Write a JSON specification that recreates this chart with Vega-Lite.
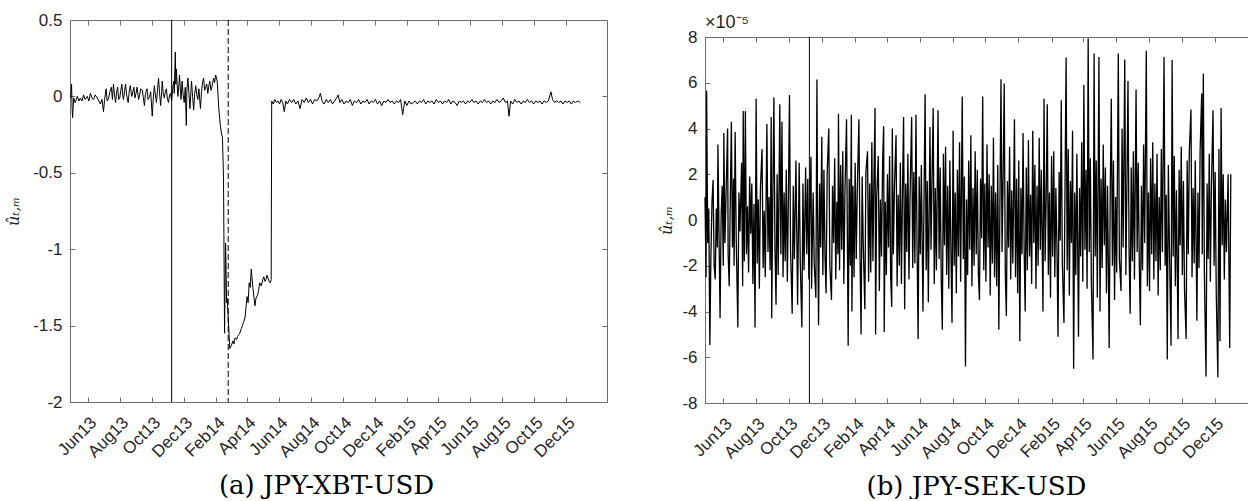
{
"$schema": "https://vega.github.io/schema/vega-lite/v6.json",
"padding": {"left": 5, "top": 11, "right": 0, "bottom": 0},
"background": "white",
"config": {
  "view": {"stroke": null},
  "font": "Liberation Sans",
  "axis": {"grid": false, "domainColor": "#6e6e6e", "tickColor": "#6e6e6e", "domainWidth": 1, "tickWidth": 1, "tickSize": -5, "labelColor": "#262626", "labelFont": "Liberation Sans", "labelFontSize": 17, "labelFlush": false, "labelOverlap": false}
},
"datasets": {
"events_a": [{"date": "2013-11-08", "style": "solid"}, {"date": "2014-02-24", "style": "dashed"}],
"events_b": [{"date": "2013-11-08", "style": "solid"}],
"xbt": [
{"date":"2013-04-29","u":-0.01},{"date":"2013-05-01","u":0.08},{"date":"2013-05-02","u":-0.08},{"date":"2013-05-03","u":-0.14},{"date":"2013-05-05","u":-0.01},{"date":"2013-05-08","u":-0.04},{"date":"2013-05-10","u":-0.02},{"date":"2013-05-12","u":0.0},{"date":"2013-05-15","u":-0.03},{"date":"2013-05-18","u":-0.01},{"date":"2013-05-21","u":-0.03},{"date":"2013-05-24","u":0.01},{"date":"2013-05-27","u":-0.02},{"date":"2013-05-31","u":0.0},
{"date":"2013-06-03","u":-0.03},{"date":"2013-06-06","u":0.02},{"date":"2013-06-09","u":-0.01},{"date":"2013-06-12","u":-0.02},{"date":"2013-06-15","u":0.01},{"date":"2013-06-19","u":-0.01},{"date":"2013-06-22","u":-0.03},{"date":"2013-06-25","u":-0.05},{"date":"2013-06-28","u":-0.02},
{"date":"2013-07-01","u":-0.10},{"date":"2013-07-03","u":-0.02},{"date":"2013-07-06","u":0.05},{"date":"2013-07-08","u":-0.03},{"date":"2013-07-11","u":-0.01},{"date":"2013-07-13","u":0.03},{"date":"2013-07-16","u":0.06},{"date":"2013-07-18","u":-0.02},{"date":"2013-07-20","u":0.08},{"date":"2013-07-22","u":0.01},{"date":"2013-07-24","u":-0.04},{"date":"2013-07-26","u":0.03},{"date":"2013-07-28","u":0.06},{"date":"2013-07-30","u":-0.02},
{"date":"2013-08-01","u":-0.01},{"date":"2013-08-03","u":0.04},{"date":"2013-08-05","u":0.08},{"date":"2013-08-07","u":0.0},{"date":"2013-08-08","u":-0.02},{"date":"2013-08-10","u":0.03},{"date":"2013-08-12","u":0.08},{"date":"2013-08-14","u":0.01},{"date":"2013-08-17","u":-0.04},{"date":"2013-08-19","u":0.03},{"date":"2013-08-21","u":0.07},{"date":"2013-08-24","u":0.0},{"date":"2013-08-26","u":0.03},{"date":"2013-08-28","u":0.06},{"date":"2013-08-30","u":-0.01},
{"date":"2013-09-01","u":0.02},{"date":"2013-09-03","u":0.06},{"date":"2013-09-06","u":-0.02},{"date":"2013-09-08","u":0.01},{"date":"2013-09-10","u":0.05},{"date":"2013-09-13","u":0.04},{"date":"2013-09-15","u":-0.01},{"date":"2013-09-17","u":-0.06},{"date":"2013-09-19","u":0.02},{"date":"2013-09-22","u":0.05},{"date":"2013-09-24","u":-0.02},{"date":"2013-09-27","u":0.0},{"date":"2013-09-29","u":0.03},
{"date":"2013-10-02","u":-0.13},{"date":"2013-10-04","u":-0.01},{"date":"2013-10-06","u":0.07},{"date":"2013-10-08","u":0.01},{"date":"2013-10-10","u":-0.04},{"date":"2013-10-12","u":0.04},{"date":"2013-10-14","u":0.12},{"date":"2013-10-16","u":0.02},{"date":"2013-10-18","u":-0.06},{"date":"2013-10-20","u":0.03},{"date":"2013-10-21","u":0.10},{"date":"2013-10-23","u":0.02},{"date":"2013-10-25","u":-0.01},{"date":"2013-10-27","u":0.03},{"date":"2013-10-29","u":0.05},{"date":"2013-10-31","u":-0.02},
{"date":"2013-11-02","u":-0.04},{"date":"2013-11-04","u":0.01},{"date":"2013-11-06","u":0.02},{"date":"2013-11-08","u":-0.03},{"date":"2013-11-10","u":0.05},{"date":"2013-11-12","u":0.10},{"date":"2013-11-13","u":0.02},{"date":"2013-11-15","u":0.29},{"date":"2013-11-16","u":0.08},{"date":"2013-11-17","u":0.18},{"date":"2013-11-19","u":0.05},{"date":"2013-11-20","u":0.0},{"date":"2013-11-22","u":0.08},{"date":"2013-11-23","u":0.14},{"date":"2013-11-25","u":0.03},{"date":"2013-11-26","u":-0.02},{"date":"2013-11-28","u":0.10},{"date":"2013-11-30","u":0.01},
{"date":"2013-12-02","u":-0.04},{"date":"2013-12-04","u":0.06},{"date":"2013-12-06","u":-0.19},{"date":"2013-12-07","u":0.03},{"date":"2013-12-09","u":0.12},{"date":"2013-12-11","u":0.02},{"date":"2013-12-13","u":-0.08},{"date":"2013-12-15","u":0.05},{"date":"2013-12-16","u":0.10},{"date":"2013-12-18","u":0.0},{"date":"2013-12-20","u":-0.09},{"date":"2013-12-22","u":0.02},{"date":"2013-12-24","u":0.07},{"date":"2013-12-26","u":0.01},{"date":"2013-12-28","u":-0.02},{"date":"2013-12-30","u":0.05},
{"date":"2014-01-02","u":-0.08},{"date":"2014-01-04","u":0.03},{"date":"2014-01-06","u":0.09},{"date":"2014-01-08","u":0.12},{"date":"2014-01-10","u":0.04},{"date":"2014-01-12","u":0.06},{"date":"2014-01-14","u":0.08},{"date":"2014-01-16","u":0.02},{"date":"2014-01-18","u":0.07},{"date":"2014-01-20","u":0.10},{"date":"2014-01-22","u":0.04},{"date":"2014-01-23","u":0.05},{"date":"2014-01-25","u":0.08},{"date":"2014-01-27","u":0.12},{"date":"2014-01-29","u":0.09},{"date":"2014-01-31","u":0.14},
{"date":"2014-02-03","u":0.10},{"date":"2014-02-06","u":-0.08},{"date":"2014-02-09","u":-0.19},{"date":"2014-02-11","u":-0.24},{"date":"2014-02-13","u":-0.27},{"date":"2014-02-15","u":-0.53},{"date":"2014-02-17","u":-1.55},{"date":"2014-02-19","u":-0.96},{"date":"2014-02-21","u":-1.35},{"date":"2014-02-22","u":-1.32},{"date":"2014-02-24","u":-1.45},{"date":"2014-02-27","u":-1.65},
{"date":"2014-03-02","u":-1.63},{"date":"2014-03-05","u":-1.60},{"date":"2014-03-07","u":-1.62},{"date":"2014-03-09","u":-1.58},{"date":"2014-03-12","u":-1.59},{"date":"2014-03-14","u":-1.57},{"date":"2014-03-16","u":-1.56},{"date":"2014-03-18","u":-1.55},{"date":"2014-03-21","u":-1.52},{"date":"2014-03-23","u":-1.50},{"date":"2014-03-25","u":-1.48},{"date":"2014-03-28","u":-1.45},
{"date":"2014-04-01","u":-1.31},{"date":"2014-04-03","u":-1.35},{"date":"2014-04-05","u":-1.22},{"date":"2014-04-07","u":-1.25},{"date":"2014-04-09","u":-1.13},{"date":"2014-04-12","u":-1.25},{"date":"2014-04-16","u":-1.37},{"date":"2014-04-18","u":-1.32},{"date":"2014-04-21","u":-1.30},{"date":"2014-04-23","u":-1.27},{"date":"2014-04-25","u":-1.22},{"date":"2014-04-28","u":-1.24},
{"date":"2014-05-01","u":-1.20},{"date":"2014-05-03","u":-1.18},{"date":"2014-05-05","u":-1.21},{"date":"2014-05-07","u":-1.20},{"date":"2014-05-09","u":-1.17},{"date":"2014-05-11","u":-1.19},{"date":"2014-05-13","u":-1.21},{"date":"2014-05-15","u":-1.22},{"date":"2014-05-17","u":-1.20},{"date":"2014-05-18","u":-0.03},{"date":"2014-05-21","u":-0.05},{"date":"2014-05-24","u":-0.02},{"date":"2014-05-27","u":-0.04},{"date":"2014-05-30","u":-0.03},
{"date":"2014-06-02","u":-0.05},{"date":"2014-06-05","u":-0.02},{"date":"2014-06-08","u":-0.04},{"date":"2014-06-11","u":-0.10},{"date":"2014-06-14","u":-0.03},{"date":"2014-06-17","u":-0.05},{"date":"2014-06-21","u":-0.02},{"date":"2014-06-25","u":-0.04},{"date":"2014-06-29","u":-0.02},
{"date":"2014-07-03","u":-0.05},{"date":"2014-07-07","u":-0.03},{"date":"2014-07-11","u":-0.08},{"date":"2014-07-15","u":-0.02},{"date":"2014-07-19","u":-0.04},{"date":"2014-07-23","u":-0.01},{"date":"2014-07-27","u":-0.04},{"date":"2014-07-31","u":-0.02},
{"date":"2014-08-04","u":-0.05},{"date":"2014-08-08","u":-0.02},{"date":"2014-08-12","u":-0.03},{"date":"2014-08-16","u":-0.01},{"date":"2014-08-19","u":0.02},{"date":"2014-08-22","u":-0.03},{"date":"2014-08-26","u":-0.05},{"date":"2014-08-30","u":-0.02},
{"date":"2014-09-03","u":-0.04},{"date":"2014-09-07","u":-0.02},{"date":"2014-09-11","u":-0.05},{"date":"2014-09-15","u":-0.03},{"date":"2014-09-19","u":-0.01},{"date":"2014-09-22","u":0.01},{"date":"2014-09-25","u":-0.04},{"date":"2014-09-29","u":-0.02},
{"date":"2014-10-03","u":-0.05},{"date":"2014-10-07","u":-0.03},{"date":"2014-10-11","u":-0.04},{"date":"2014-10-15","u":-0.02},{"date":"2014-10-19","u":-0.06},{"date":"2014-10-23","u":-0.03},{"date":"2014-10-27","u":-0.04},{"date":"2014-10-31","u":-0.02},
{"date":"2014-11-04","u":-0.05},{"date":"2014-11-08","u":-0.03},{"date":"2014-11-12","u":-0.04},{"date":"2014-11-16","u":-0.02},{"date":"2014-11-20","u":-0.05},{"date":"2014-11-24","u":-0.03},{"date":"2014-11-28","u":-0.04},
{"date":"2014-12-02","u":-0.02},{"date":"2014-12-06","u":-0.05},{"date":"2014-12-10","u":-0.03},{"date":"2014-12-14","u":-0.06},{"date":"2014-12-18","u":-0.03},{"date":"2014-12-22","u":-0.04},{"date":"2014-12-26","u":-0.02},{"date":"2014-12-30","u":-0.04},
{"date":"2015-01-03","u":-0.03},{"date":"2015-01-07","u":-0.05},{"date":"2015-01-11","u":-0.03},{"date":"2015-01-15","u":-0.04},{"date":"2015-01-19","u":-0.02},{"date":"2015-01-23","u":-0.12},{"date":"2015-01-27","u":-0.03},{"date":"2015-01-31","u":-0.06},
{"date":"2015-02-04","u":-0.03},{"date":"2015-02-08","u":-0.05},{"date":"2015-02-12","u":-0.04},{"date":"2015-02-16","u":-0.03},{"date":"2015-02-20","u":-0.05},{"date":"2015-02-24","u":-0.03},{"date":"2015-02-28","u":-0.04},
{"date":"2015-03-04","u":-0.02},{"date":"2015-03-08","u":-0.05},{"date":"2015-03-12","u":-0.03},{"date":"2015-03-16","u":-0.04},{"date":"2015-03-20","u":-0.03},{"date":"2015-03-24","u":-0.05},{"date":"2015-03-28","u":-0.02},
{"date":"2015-04-01","u":-0.04},{"date":"2015-04-05","u":-0.03},{"date":"2015-04-09","u":-0.05},{"date":"2015-04-13","u":-0.03},{"date":"2015-04-17","u":-0.04},{"date":"2015-04-21","u":-0.02},{"date":"2015-04-25","u":-0.05},{"date":"2015-04-29","u":-0.03},
{"date":"2015-05-03","u":-0.04},{"date":"2015-05-07","u":-0.06},{"date":"2015-05-11","u":-0.03},{"date":"2015-05-15","u":-0.04},{"date":"2015-05-19","u":-0.03},{"date":"2015-05-23","u":-0.05},{"date":"2015-05-27","u":-0.03},{"date":"2015-05-31","u":-0.04},
{"date":"2015-06-04","u":-0.02},{"date":"2015-06-08","u":-0.04},{"date":"2015-06-12","u":-0.03},{"date":"2015-06-16","u":-0.05},{"date":"2015-06-20","u":-0.03},{"date":"2015-06-24","u":-0.04},{"date":"2015-06-28","u":-0.02},
{"date":"2015-07-02","u":-0.04},{"date":"2015-07-06","u":-0.03},{"date":"2015-07-10","u":-0.05},{"date":"2015-07-14","u":-0.03},{"date":"2015-07-18","u":-0.04},{"date":"2015-07-22","u":-0.02},{"date":"2015-07-26","u":-0.04},{"date":"2015-07-30","u":-0.03},
{"date":"2015-08-03","u":-0.01},{"date":"2015-08-07","u":-0.04},{"date":"2015-08-11","u":-0.03},{"date":"2015-08-14","u":-0.13},{"date":"2015-08-17","u":-0.03},{"date":"2015-08-21","u":-0.05},{"date":"2015-08-25","u":-0.02},{"date":"2015-08-29","u":-0.04},
{"date":"2015-09-02","u":-0.03},{"date":"2015-09-06","u":-0.05},{"date":"2015-09-10","u":-0.03},{"date":"2015-09-14","u":-0.04},{"date":"2015-09-18","u":-0.02},{"date":"2015-09-22","u":-0.04},{"date":"2015-09-26","u":-0.03},{"date":"2015-09-30","u":-0.05},
{"date":"2015-10-04","u":-0.03},{"date":"2015-10-08","u":-0.04},{"date":"2015-10-12","u":-0.03},{"date":"2015-10-16","u":-0.05},{"date":"2015-10-20","u":-0.03},{"date":"2015-10-24","u":-0.04},{"date":"2015-10-28","u":-0.03},
{"date":"2015-11-02","u":0.03},{"date":"2015-11-05","u":-0.02},{"date":"2015-11-09","u":-0.04},{"date":"2015-11-13","u":-0.03},{"date":"2015-11-17","u":-0.04},{"date":"2015-11-21","u":-0.03},{"date":"2015-11-25","u":-0.05},{"date":"2015-11-29","u":-0.03},
{"date":"2015-12-03","u":-0.04},{"date":"2015-12-07","u":-0.03},{"date":"2015-12-11","u":-0.05},{"date":"2015-12-15","u":-0.03},{"date":"2015-12-19","u":-0.04},{"date":"2015-12-23","u":-0.03},{"date":"2015-12-28","u":-0.04}
],
"sek": [
{"date":"2013-04-28","u":1.0},{"date":"2013-04-30","u":-2.5},{"date":"2013-05-01","u":5.65},{"date":"2013-05-03","u":-1.0},{"date":"2013-05-05","u":0.5},{"date":"2013-05-07","u":-5.46},{"date":"2013-05-09","u":-1.5},{"date":"2013-05-11","u":0.8},{"date":"2013-05-13","u":1.75},{"date":"2013-05-15","u":-2.0},{"date":"2013-05-17","u":-2.6},{"date":"2013-05-19","u":0.5},{"date":"2013-05-21","u":-1.2},{"date":"2013-05-22","u":3.3},{"date":"2013-05-24","u":-0.5},{"date":"2013-05-26","u":-4.3},{"date":"2013-05-28","u":0.2},{"date":"2013-05-30","u":1.5},
{"date":"2013-06-01","u":-2.0},{"date":"2013-06-02","u":3.8},{"date":"2013-06-04","u":-1.0},{"date":"2013-06-06","u":1.0},{"date":"2013-06-09","u":4.0},{"date":"2013-06-10","u":-1.5},{"date":"2013-06-12","u":-2.9},{"date":"2013-06-14","u":0.9},{"date":"2013-06-16","u":4.3},{"date":"2013-06-18","u":-1.2},{"date":"2013-06-20","u":1.8},{"date":"2013-06-21","u":-2.0},{"date":"2013-06-23","u":3.85},{"date":"2013-06-25","u":-0.8},{"date":"2013-06-28","u":-4.7},{"date":"2013-06-30","u":1.2},
{"date":"2013-07-02","u":-0.5},{"date":"2013-07-05","u":2.5},{"date":"2013-07-07","u":-2.9},{"date":"2013-07-08","u":4.77},{"date":"2013-07-10","u":-1.8},{"date":"2013-07-12","u":4.77},{"date":"2013-07-14","u":-1.5},{"date":"2013-07-16","u":0.6},{"date":"2013-07-18","u":-2.3},{"date":"2013-07-20","u":1.9},{"date":"2013-07-22","u":-0.6},{"date":"2013-07-24","u":1.6},{"date":"2013-07-26","u":-2.8},{"date":"2013-07-28","u":0.7},{"date":"2013-07-30","u":-4.7},
{"date":"2013-08-01","u":5.3},{"date":"2013-08-03","u":-1.9},{"date":"2013-08-05","u":0.9},{"date":"2013-08-07","u":-3.0},{"date":"2013-08-09","u":1.4},{"date":"2013-08-12","u":3.1},{"date":"2013-08-14","u":-2.1},{"date":"2013-08-16","u":0.4},{"date":"2013-08-18","u":-2.5},{"date":"2013-08-21","u":4.2},{"date":"2013-08-23","u":-1.4},{"date":"2013-08-25","u":1.0},{"date":"2013-08-27","u":-2.2},{"date":"2013-08-29","u":4.5},{"date":"2013-08-30","u":-4.3},
{"date":"2013-09-01","u":1.1},{"date":"2013-09-03","u":5.36},{"date":"2013-09-05","u":-1.2},{"date":"2013-09-07","u":-3.7},{"date":"2013-09-09","u":2.0},{"date":"2013-09-11","u":-2.4},{"date":"2013-09-14","u":5.06},{"date":"2013-09-16","u":-1.5},{"date":"2013-09-18","u":4.3},{"date":"2013-09-20","u":-2.5},{"date":"2013-09-22","u":1.2},{"date":"2013-09-24","u":-1.8},{"date":"2013-09-26","u":2.2},{"date":"2013-09-28","u":-2.7},{"date":"2013-09-30","u":1.0},
{"date":"2013-10-02","u":5.46},{"date":"2013-10-04","u":-1.3},{"date":"2013-10-07","u":-4.1},{"date":"2013-10-09","u":1.5},{"date":"2013-10-11","u":-1.7},{"date":"2013-10-14","u":2.6},{"date":"2013-10-17","u":-3.7},{"date":"2013-10-20","u":2.5},{"date":"2013-10-22","u":-1.8},{"date":"2013-10-25","u":-4.7},{"date":"2013-10-27","u":1.6},{"date":"2013-10-29","u":-2.2},
{"date":"2013-11-01","u":2.3},{"date":"2013-11-03","u":-1.5},{"date":"2013-11-05","u":1.8},{"date":"2013-11-07","u":-2.6},{"date":"2013-11-09","u":0.7},{"date":"2013-11-11","u":2.76},{"date":"2013-11-12","u":-3.0},{"date":"2013-11-15","u":1.2},{"date":"2013-11-17","u":-1.9},{"date":"2013-11-20","u":-3.4},{"date":"2013-11-22","u":6.14},{"date":"2013-11-23","u":1.0},{"date":"2013-11-25","u":-4.6},{"date":"2013-11-27","u":1.6},{"date":"2013-11-29","u":-1.2},
{"date":"2013-12-01","u":3.64},{"date":"2013-12-03","u":-2.4},{"date":"2013-12-05","u":2.2},{"date":"2013-12-07","u":-1.6},{"date":"2013-12-09","u":-3.2},{"date":"2013-12-11","u":2.0},{"date":"2013-12-14","u":4.0},{"date":"2013-12-16","u":-2.0},{"date":"2013-12-19","u":-3.5},{"date":"2013-12-21","u":1.5},{"date":"2013-12-23","u":-1.0},{"date":"2013-12-25","u":2.7},{"date":"2013-12-27","u":-2.6},{"date":"2013-12-29","u":0.8},{"date":"2013-12-31","u":-1.5},
{"date":"2014-01-01","u":4.65},{"date":"2014-01-03","u":-2.2},{"date":"2014-01-05","u":2.4},{"date":"2014-01-07","u":-1.3},{"date":"2014-01-09","u":3.0},{"date":"2014-01-11","u":-2.8},{"date":"2014-01-13","u":1.2},{"date":"2014-01-16","u":4.4},{"date":"2014-01-19","u":-5.5},{"date":"2014-01-21","u":1.8},{"date":"2014-01-23","u":-2.0},{"date":"2014-01-25","u":4.6},{"date":"2014-01-26","u":-4.0},{"date":"2014-01-28","u":1.5},{"date":"2014-01-30","u":-2.5},
{"date":"2014-02-01","u":2.5},{"date":"2014-02-03","u":-1.7},{"date":"2014-02-05","u":1.3},{"date":"2014-02-08","u":4.4},{"date":"2014-02-10","u":-1.5},{"date":"2014-02-12","u":-5.0},{"date":"2014-02-14","u":1.9},{"date":"2014-02-16","u":-1.0},{"date":"2014-02-19","u":-3.9},{"date":"2014-02-21","u":2.1},{"date":"2014-02-24","u":3.0},{"date":"2014-02-26","u":-2.7},{"date":"2014-02-28","u":1.6},
{"date":"2014-03-02","u":-2.3},{"date":"2014-03-04","u":3.4},{"date":"2014-03-06","u":-1.8},{"date":"2014-03-08","u":2.0},{"date":"2014-03-10","u":4.9},{"date":"2014-03-11","u":-5.0},{"date":"2014-03-13","u":1.0},{"date":"2014-03-16","u":2.8},{"date":"2014-03-18","u":-3.1},{"date":"2014-03-20","u":0.9},{"date":"2014-03-22","u":-1.6},{"date":"2014-03-24","u":2.5},{"date":"2014-03-26","u":4.1},{"date":"2014-03-27","u":-4.9},{"date":"2014-03-29","u":0.8},{"date":"2014-03-31","u":-2.4},
{"date":"2014-04-02","u":2.0},{"date":"2014-04-04","u":-1.2},{"date":"2014-04-06","u":2.8},{"date":"2014-04-08","u":-2.5},{"date":"2014-04-10","u":-3.8},{"date":"2014-04-11","u":4.0},{"date":"2014-04-13","u":-1.5},{"date":"2014-04-15","u":1.4},{"date":"2014-04-18","u":3.7},{"date":"2014-04-20","u":-2.9},{"date":"2014-04-22","u":1.1},{"date":"2014-04-24","u":-2.0},{"date":"2014-04-26","u":2.5},{"date":"2014-04-28","u":-2.8},{"date":"2014-04-30","u":1.3},
{"date":"2014-05-02","u":4.5},{"date":"2014-05-04","u":-3.9},{"date":"2014-05-06","u":1.6},{"date":"2014-05-08","u":-1.4},{"date":"2014-05-10","u":2.9},{"date":"2014-05-12","u":-2.6},{"date":"2014-05-14","u":1.0},{"date":"2014-05-17","u":4.5},{"date":"2014-05-19","u":-2.1},{"date":"2014-05-21","u":2.1},{"date":"2014-05-23","u":-1.9},{"date":"2014-05-25","u":4.6},{"date":"2014-05-27","u":-1.1},{"date":"2014-05-29","u":-5.2},{"date":"2014-05-31","u":1.9},
{"date":"2014-06-02","u":-1.5},{"date":"2014-06-04","u":2.4},{"date":"2014-06-07","u":-4.0},{"date":"2014-06-09","u":1.0},{"date":"2014-06-11","u":5.5},{"date":"2014-06-13","u":-2.2},{"date":"2014-06-15","u":1.7},{"date":"2014-06-17","u":-3.6},{"date":"2014-06-20","u":4.07},{"date":"2014-06-22","u":-1.3},{"date":"2014-06-24","u":2.0},{"date":"2014-06-26","u":4.9},{"date":"2014-06-28","u":-2.8},{"date":"2014-06-30","u":1.4},
{"date":"2014-07-02","u":-2.2},{"date":"2014-07-05","u":4.8},{"date":"2014-07-07","u":-1.7},{"date":"2014-07-09","u":2.3},{"date":"2014-07-11","u":-2.6},{"date":"2014-07-13","u":-4.8},{"date":"2014-07-15","u":2.9},{"date":"2014-07-17","u":-1.1},{"date":"2014-07-19","u":3.2},{"date":"2014-07-21","u":-2.4},{"date":"2014-07-23","u":1.5},{"date":"2014-07-25","u":-3.0},{"date":"2014-07-27","u":2.6},{"date":"2014-07-29","u":-1.4},{"date":"2014-07-31","u":-4.5},
{"date":"2014-08-02","u":3.9},{"date":"2014-08-04","u":-2.0},{"date":"2014-08-06","u":1.2},{"date":"2014-08-08","u":-3.2},{"date":"2014-08-10","u":2.2},{"date":"2014-08-12","u":-1.6},{"date":"2014-08-14","u":3.4},{"date":"2014-08-16","u":-2.7},{"date":"2014-08-19","u":5.4},{"date":"2014-08-21","u":-1.7},{"date":"2014-08-23","u":1.9},{"date":"2014-08-25","u":-6.4},{"date":"2014-08-27","u":0.9},{"date":"2014-08-29","u":-2.4},{"date":"2014-08-31","u":2.6},
{"date":"2014-09-02","u":-1.3},{"date":"2014-09-04","u":3.7},{"date":"2014-09-06","u":-2.9},{"date":"2014-09-08","u":1.4},{"date":"2014-09-10","u":-2.0},{"date":"2014-09-12","u":3.0},{"date":"2014-09-14","u":-1.5},{"date":"2014-09-16","u":2.2},{"date":"2014-09-18","u":-2.4},{"date":"2014-09-20","u":-3.5},{"date":"2014-09-22","u":1.8},{"date":"2014-09-24","u":-0.8},{"date":"2014-09-26","u":5.4},{"date":"2014-09-28","u":-2.2},{"date":"2014-09-30","u":1.6},
{"date":"2014-10-02","u":-2.7},{"date":"2014-10-04","u":3.3},{"date":"2014-10-06","u":-1.2},{"date":"2014-10-08","u":2.0},{"date":"2014-10-10","u":-3.3},{"date":"2014-10-12","u":1.5},{"date":"2014-10-14","u":-1.9},{"date":"2014-10-16","u":3.6},{"date":"2014-10-18","u":-2.5},{"date":"2014-10-20","u":1.2},{"date":"2014-10-22","u":-2.9},{"date":"2014-10-24","u":2.4},{"date":"2014-10-26","u":-4.8},{"date":"2014-10-30","u":6.15},
{"date":"2014-11-01","u":-1.4},{"date":"2014-11-03","u":2.0},{"date":"2014-11-05","u":5.97},{"date":"2014-11-07","u":-2.3},{"date":"2014-11-09","u":-4.2},{"date":"2014-11-11","u":1.7},{"date":"2014-11-13","u":-1.2},{"date":"2014-11-15","u":3.2},{"date":"2014-11-17","u":-2.6},{"date":"2014-11-19","u":1.3},{"date":"2014-11-21","u":-1.9},{"date":"2014-11-24","u":4.4},{"date":"2014-11-26","u":-2.5},{"date":"2014-11-28","u":1.8},{"date":"2014-11-30","u":-3.2},
{"date":"2014-12-02","u":2.6},{"date":"2014-12-04","u":-5.3},{"date":"2014-12-06","u":1.4},{"date":"2014-12-08","u":-1.5},{"date":"2014-12-10","u":3.8},{"date":"2014-12-12","u":-1.2},{"date":"2014-12-14","u":-4.0},{"date":"2014-12-16","u":2.3},{"date":"2014-12-18","u":-2.2},{"date":"2014-12-20","u":3.5},{"date":"2014-12-22","u":-1.6},{"date":"2014-12-24","u":1.1},{"date":"2014-12-26","u":-2.8},{"date":"2014-12-28","u":3.9},{"date":"2014-12-30","u":-1.0},
{"date":"2015-01-01","u":2.4},{"date":"2015-01-03","u":-3.0},{"date":"2015-01-05","u":1.5},{"date":"2015-01-07","u":-2.0},{"date":"2015-01-09","u":3.6},{"date":"2015-01-11","u":-1.3},{"date":"2015-01-13","u":2.2},{"date":"2015-01-16","u":-4.0},{"date":"2015-01-18","u":5.3},{"date":"2015-01-20","u":-1.8},{"date":"2015-01-22","u":1.0},{"date":"2015-01-24","u":5.06},{"date":"2015-01-26","u":-2.4},{"date":"2015-01-28","u":1.2},{"date":"2015-01-30","u":-3.4},
{"date":"2015-02-01","u":2.8},{"date":"2015-02-03","u":-1.6},{"date":"2015-02-05","u":3.0},{"date":"2015-02-07","u":-2.5},{"date":"2015-02-09","u":1.4},{"date":"2015-02-11","u":-1.2},{"date":"2015-02-13","u":-5.1},{"date":"2015-02-15","u":2.1},{"date":"2015-02-17","u":-0.9},{"date":"2015-02-19","u":5.24},{"date":"2015-02-21","u":-1.9},{"date":"2015-02-24","u":-4.5},{"date":"2015-02-26","u":1.5},{"date":"2015-02-28","u":7.1},
{"date":"2015-03-02","u":-2.2},{"date":"2015-03-04","u":3.1},{"date":"2015-03-06","u":-3.3},{"date":"2015-03-08","u":1.7},{"date":"2015-03-10","u":-1.0},{"date":"2015-03-12","u":3.9},{"date":"2015-03-14","u":-6.5},{"date":"2015-03-16","u":1.2},{"date":"2015-03-18","u":-2.4},{"date":"2015-03-20","u":2.9},{"date":"2015-03-23","u":-5.1},{"date":"2015-03-25","u":1.4},{"date":"2015-03-27","u":-1.6},{"date":"2015-03-29","u":3.4},{"date":"2015-03-31","u":-2.7},
{"date":"2015-04-02","u":5.9},{"date":"2015-04-04","u":-1.3},{"date":"2015-04-06","u":2.2},{"date":"2015-04-08","u":-3.0},{"date":"2015-04-10","u":7.93},{"date":"2015-04-12","u":-1.4},{"date":"2015-04-14","u":2.7},{"date":"2015-04-16","u":-2.8},{"date":"2015-04-19","u":-6.1},{"date":"2015-04-21","u":7.28},{"date":"2015-04-23","u":-1.6},{"date":"2015-04-25","u":2.6},{"date":"2015-04-27","u":-3.4},{"date":"2015-04-30","u":7.13},
{"date":"2015-05-02","u":-4.0},{"date":"2015-05-04","u":1.8},{"date":"2015-05-06","u":-2.1},{"date":"2015-05-08","u":3.3},{"date":"2015-05-10","u":-1.1},{"date":"2015-05-12","u":2.3},{"date":"2015-05-14","u":-3.2},{"date":"2015-05-16","u":1.5},{"date":"2015-05-19","u":-5.6},{"date":"2015-05-21","u":1.2},{"date":"2015-05-23","u":5.3},{"date":"2015-05-25","u":-2.0},{"date":"2015-05-27","u":2.6},{"date":"2015-05-29","u":-3.5},{"date":"2015-05-31","u":1.0},
{"date":"2015-06-02","u":-2.3},{"date":"2015-06-05","u":7.28},{"date":"2015-06-07","u":-1.7},{"date":"2015-06-10","u":-3.1},{"date":"2015-06-12","u":4.0},{"date":"2015-06-14","u":-1.2},{"date":"2015-06-17","u":7.02},{"date":"2015-06-19","u":-2.4},{"date":"2015-06-21","u":1.6},{"date":"2015-06-23","u":6.08},{"date":"2015-06-25","u":-1.3},{"date":"2015-06-27","u":-4.1},{"date":"2015-06-29","u":2.3},
{"date":"2015-07-01","u":-1.8},{"date":"2015-07-03","u":3.0},{"date":"2015-07-05","u":-2.6},{"date":"2015-07-08","u":5.7},{"date":"2015-07-10","u":-1.4},{"date":"2015-07-12","u":2.5},{"date":"2015-07-14","u":-1.9},{"date":"2015-07-16","u":-4.6},{"date":"2015-07-18","u":1.5},{"date":"2015-07-20","u":-2.2},{"date":"2015-07-22","u":3.3},{"date":"2015-07-24","u":-1.0},{"date":"2015-07-27","u":7.4},{"date":"2015-07-29","u":-2.9},{"date":"2015-07-31","u":1.2},
{"date":"2015-08-02","u":-3.1},{"date":"2015-08-04","u":2.7},{"date":"2015-08-06","u":-1.5},{"date":"2015-08-08","u":3.4},{"date":"2015-08-10","u":-2.6},{"date":"2015-08-12","u":1.6},{"date":"2015-08-14","u":-1.8},{"date":"2015-08-16","u":2.9},{"date":"2015-08-18","u":-3.3},{"date":"2015-08-20","u":1.0},{"date":"2015-08-22","u":-2.2},{"date":"2015-08-24","u":3.1},{"date":"2015-08-26","u":-1.4},{"date":"2015-08-29","u":7.13},{"date":"2015-08-31","u":-2.0},
{"date":"2015-09-02","u":1.1},{"date":"2015-09-04","u":-6.1},{"date":"2015-09-06","u":2.4},{"date":"2015-09-08","u":-1.2},{"date":"2015-09-11","u":-5.5},{"date":"2015-09-13","u":6.99},{"date":"2015-09-15","u":-1.6},{"date":"2015-09-17","u":2.8},{"date":"2015-09-19","u":-2.9},{"date":"2015-09-21","u":1.3},{"date":"2015-09-24","u":-5.2},{"date":"2015-09-26","u":2.2},{"date":"2015-09-28","u":-1.1},{"date":"2015-09-30","u":3.2},
{"date":"2015-10-02","u":-2.4},{"date":"2015-10-04","u":1.7},{"date":"2015-10-06","u":-3.0},{"date":"2015-10-09","u":-5.2},{"date":"2015-10-11","u":2.6},{"date":"2015-10-13","u":-1.5},{"date":"2015-10-15","u":3.0},{"date":"2015-10-18","u":4.83},{"date":"2015-10-20","u":-2.5},{"date":"2015-10-22","u":1.4},{"date":"2015-10-24","u":-1.9},{"date":"2015-10-26","u":2.6},{"date":"2015-10-29","u":-4.4},{"date":"2015-10-31","u":1.2},
{"date":"2015-11-02","u":-2.1},{"date":"2015-11-04","u":3.0},{"date":"2015-11-07","u":5.53},{"date":"2015-11-08","u":-1.5},{"date":"2015-11-10","u":6.4},{"date":"2015-11-12","u":-2.4},{"date":"2015-11-15","u":-6.84},{"date":"2015-11-17","u":1.6},{"date":"2015-11-19","u":-1.7},{"date":"2015-11-21","u":2.9},{"date":"2015-11-23","u":-2.7},{"date":"2015-11-25","u":1.4},{"date":"2015-11-28","u":4.8},{"date":"2015-11-30","u":-2.0},
{"date":"2015-12-02","u":2.1},{"date":"2015-12-04","u":-3.2},{"date":"2015-12-07","u":-6.88},{"date":"2015-12-09","u":3.1},{"date":"2015-12-11","u":-5.3},{"date":"2015-12-13","u":4.9},{"date":"2015-12-15","u":-1.1},{"date":"2015-12-17","u":2.0},{"date":"2015-12-19","u":-2.6},{"date":"2015-12-21","u":0.9},{"date":"2015-12-23","u":-1.4},{"date":"2015-12-26","u":2.0},{"date":"2015-12-29","u":-5.6},{"date":"2015-12-31","u":2.0}
]
},
"spacing": 50,
"hconcat": [
{
  "width": 537, "height": 382,
  "layer": [
    {"data": {"name": "xbt"}, "mark": {"type": "line", "color": "black", "strokeWidth": 1},
     "encoding": {
       "x": {"field": "date", "type": "temporal",
         "scale": {"type": "utc", "nice": false, "domain": [{"year": 2013, "month": 4, "date": 28, "utc": true}, {"year": 2016, "month": 2, "date": 17, "utc": true}]},
         "axis": {"orient": "bottom", "labelExpr": "utcFormat(datum.value, '%b%y')", "labelAngle": -45, "labelAlign": "right", "labelBaseline": "top", "labelPadding": 17,
           "values": [{"year":2013,"month":6,"date":1,"utc":true},{"year":2013,"month":8,"date":1,"utc":true},{"year":2013,"month":10,"date":1,"utc":true},{"year":2013,"month":12,"date":1,"utc":true},{"year":2014,"month":2,"date":1,"utc":true},{"year":2014,"month":4,"date":1,"utc":true},{"year":2014,"month":6,"date":1,"utc":true},{"year":2014,"month":8,"date":1,"utc":true},{"year":2014,"month":10,"date":1,"utc":true},{"year":2014,"month":12,"date":1,"utc":true},{"year":2015,"month":2,"date":1,"utc":true},{"year":2015,"month":4,"date":1,"utc":true},{"year":2015,"month":6,"date":1,"utc":true},{"year":2015,"month":8,"date":1,"utc":true},{"year":2015,"month":10,"date":1,"utc":true},{"year":2015,"month":12,"date":1,"utc":true}],
           "title": "(a) JPY-XBT-USD", "titleFont": "DejaVu Serif", "titleFontSize": 26, "titleFontWeight": "normal", "titleColor": "black", "titleX": 256, "titleY": 91, "titleAlign": "center", "titleBaseline": "alphabetic"}},
       "y": {"field": "u", "type": "quantitative", "scale": {"domain": [-2, 0.5], "nice": false, "zero": false},
         "axis": {"orient": "left", "values": [-2, -1.5, -1, -0.5, 0, 0.5], "labelExpr": "'' + datum.value", "labelPadding": 13,
           "title": "ûₜ,ₘ", "titleFont": "DejaVu Serif", "titleFontStyle": "italic", "titleFontWeight": "normal", "titleFontSize": 16, "titleColor": "#262626", "titleAngle": 270, "titleX": -57, "titleY": 191, "titleAlign": "center", "titleBaseline": "middle"}}
     }},
    {"data": {"name": "events_a"}, "mark": {"type": "rule", "color": "black", "strokeWidth": 1},
     "encoding": {
       "x": {"field": "date", "type": "temporal",
         "axis": {"orient": "top", "labels": false, "title": null,
           "values": [{"year":2013,"month":6,"date":1,"utc":true},{"year":2013,"month":8,"date":1,"utc":true},{"year":2013,"month":10,"date":1,"utc":true},{"year":2013,"month":12,"date":1,"utc":true},{"year":2014,"month":2,"date":1,"utc":true},{"year":2014,"month":4,"date":1,"utc":true},{"year":2014,"month":6,"date":1,"utc":true},{"year":2014,"month":8,"date":1,"utc":true},{"year":2014,"month":10,"date":1,"utc":true},{"year":2014,"month":12,"date":1,"utc":true},{"year":2015,"month":2,"date":1,"utc":true},{"year":2015,"month":4,"date":1,"utc":true},{"year":2015,"month":6,"date":1,"utc":true},{"year":2015,"month":8,"date":1,"utc":true},{"year":2015,"month":10,"date":1,"utc":true},{"year":2015,"month":12,"date":1,"utc":true}]}},
       "strokeDash": {"field": "style", "type": "nominal", "scale": {"domain": ["solid", "dashed"], "range": [[1, 0], [6, 3]]}, "legend": null}
     }},
    {"data": {"name": "xbt"}, "mark": {"type": "line", "opacity": 0},
     "encoding": {
       "x": {"field": "date", "type": "temporal", "axis": null},
       "y": {"field": "u", "type": "quantitative", "axis": {"orient": "right", "labels": false, "title": null, "values": [-2, -1.5, -1, -0.5, 0, 0.5]}}
     }}
  ],
  "resolve": {"axis": {"x": "independent", "y": "independent"}}
},
{
  "vconcat": [
    {"width": 543, "height": 17, "data": {"values": []}, "mark": "point"},
    {
      "width": 543, "height": 366,
      "title": {"text": "×10⁻⁵", "anchor": "start", "frame": "group", "font": "Liberation Sans", "fontSize": 18, "fontWeight": "normal", "color": "#262626", "offset": -4},
      "layer": [
        {"data": {"name": "sek"}, "mark": {"type": "line", "color": "black", "strokeWidth": 1.3},
         "encoding": {
           "x": {"field": "date", "type": "temporal",
             "scale": {"type": "utc", "nice": false, "domain": [{"year": 2013, "month": 4, "date": 28, "utc": true}, {"year": 2016, "month": 2, "date": 1, "utc": true}]},
             "axis": {"orient": "bottom", "labelExpr": "utcFormat(datum.value, '%b%y')", "labelAngle": -45, "labelAlign": "right", "labelBaseline": "top", "labelPadding": 17,
               "values": [{"year":2013,"month":6,"date":1,"utc":true},{"year":2013,"month":8,"date":1,"utc":true},{"year":2013,"month":10,"date":1,"utc":true},{"year":2013,"month":12,"date":1,"utc":true},{"year":2014,"month":2,"date":1,"utc":true},{"year":2014,"month":4,"date":1,"utc":true},{"year":2014,"month":6,"date":1,"utc":true},{"year":2014,"month":8,"date":1,"utc":true},{"year":2014,"month":10,"date":1,"utc":true},{"year":2014,"month":12,"date":1,"utc":true},{"year":2015,"month":2,"date":1,"utc":true},{"year":2015,"month":4,"date":1,"utc":true},{"year":2015,"month":6,"date":1,"utc":true},{"year":2015,"month":8,"date":1,"utc":true},{"year":2015,"month":10,"date":1,"utc":true},{"year":2015,"month":12,"date":1,"utc":true}],
               "title": "(b) JPY-SEK-USD", "titleFont": "DejaVu Serif", "titleFontSize": 26, "titleFontWeight": "normal", "titleColor": "black", "titleX": 271, "titleY": 91, "titleAlign": "center", "titleBaseline": "alphabetic"}},
           "y": {"field": "u", "type": "quantitative", "scale": {"domain": [-8, 8], "nice": false, "zero": false},
             "axis": {"orient": "left", "values": [-8, -6, -4, -2, 0, 2, 4, 6, 8], "labelExpr": "'' + datum.value", "labelPadding": 13,
               "title": "ûₜ,ₘ", "titleFont": "DejaVu Serif", "titleFontStyle": "italic", "titleFontWeight": "normal", "titleFontSize": 16, "titleColor": "#262626", "titleAngle": 270, "titleX": -39, "titleY": 183, "titleAlign": "center", "titleBaseline": "middle"}}
         }},
        {"data": {"name": "events_b"}, "mark": {"type": "rule", "color": "black", "strokeWidth": 1},
         "encoding": {
           "x": {"field": "date", "type": "temporal",
             "axis": {"orient": "top", "labels": false, "title": null,
               "values": [{"year":2013,"month":6,"date":1,"utc":true},{"year":2013,"month":8,"date":1,"utc":true},{"year":2013,"month":10,"date":1,"utc":true},{"year":2013,"month":12,"date":1,"utc":true},{"year":2014,"month":2,"date":1,"utc":true},{"year":2014,"month":4,"date":1,"utc":true},{"year":2014,"month":6,"date":1,"utc":true},{"year":2014,"month":8,"date":1,"utc":true},{"year":2014,"month":10,"date":1,"utc":true},{"year":2014,"month":12,"date":1,"utc":true},{"year":2015,"month":2,"date":1,"utc":true},{"year":2015,"month":4,"date":1,"utc":true},{"year":2015,"month":6,"date":1,"utc":true},{"year":2015,"month":8,"date":1,"utc":true},{"year":2015,"month":10,"date":1,"utc":true},{"year":2015,"month":12,"date":1,"utc":true}]}}
         }}
      ],
      "resolve": {"axis": {"x": "independent"}}
    }
  ],
  "spacing": 0,
  "bounds": "flush"
}
]
}
